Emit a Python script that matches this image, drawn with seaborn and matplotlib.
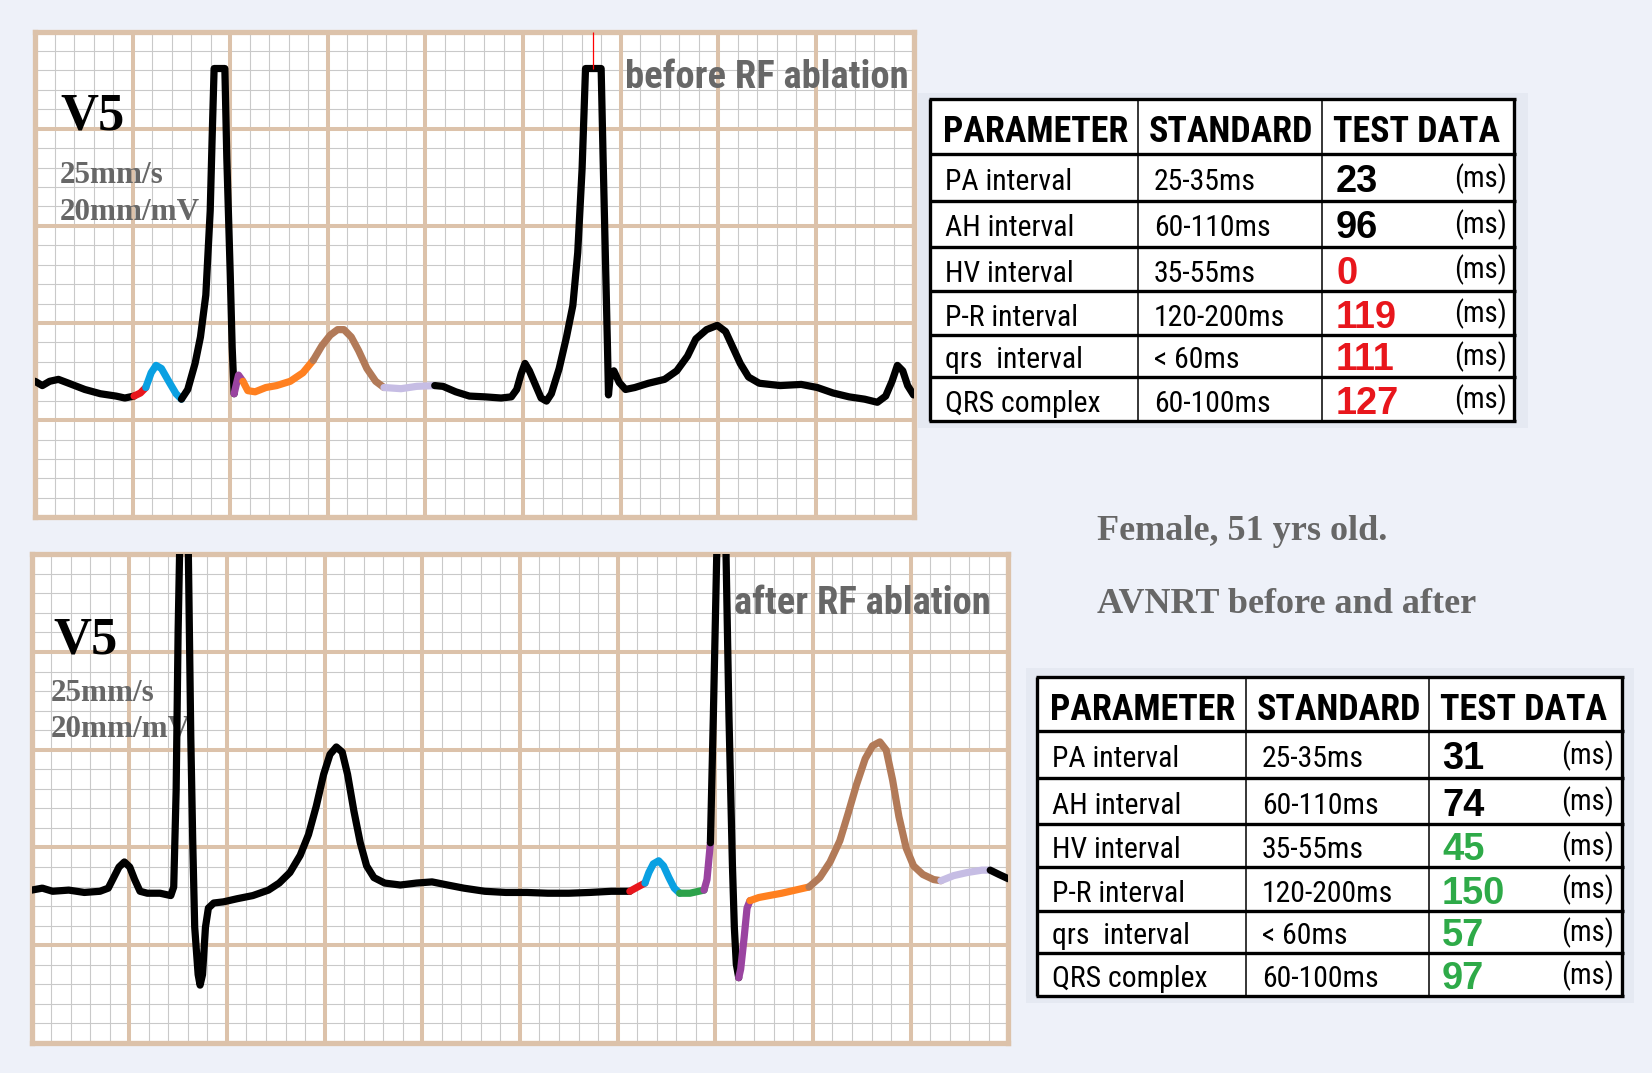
import numpy as np
import pandas as pd
import matplotlib
matplotlib.use("Agg")
import matplotlib.pyplot as plt
import matplotlib.font_manager as fm
from matplotlib.font_manager import FontProperties
from matplotlib.patches import Rectangle
import seaborn as sns

# ------------------------------------------------------------------ data
# ECG V5, time in ms (25 mm/s), amplitude in mV (20 mm/mV)
top_t = [0, 15, 30, 48, 69, 102, 134, 166, 184, 203,
         216, 227,
         238, 248, 259, 274, 289, 300,
         313, 328, 339, 350, 359, 363, 367, 389, 393, 400, 404, 408,
         417, 426,
         436, 451, 473, 495, 523, 549, 570,
         588, 605, 620, 633, 648, 663, 680, 698, 715,
         750, 782, 819,
         836, 862, 890, 922, 955, 976, 987, 996, 1004, 1013,
         1026, 1037, 1048, 1058, 1074, 1089, 1102, 1112, 1121, 1128,
         1160, 1164, 1169, 1173, 1175, 1179, 1186, 1197, 1210, 1229,
         1257, 1290, 1315, 1337, 1354, 1376, 1398, 1415, 1430, 1445,
         1462, 1484, 1527, 1570, 1603, 1635, 1668, 1700, 1726, 1743,
         1756, 1767, 1778, 1788, 1800]
top_v = [0.0, -0.011, 0.0, 0.005, -0.005, -0.021, -0.032, -0.038, -0.043, -0.038,
         -0.030, -0.016,
         0.022, 0.041, 0.033, 0.0, -0.032, -0.046,
         -0.021, 0.046, 0.114, 0.222, 0.439, 0.629, 0.805, 0.805, 0.575, 0.277, 0.087, -0.032,
         0.016, 0.0,
         -0.024, -0.027, -0.016, -0.011, 0.0, 0.022, 0.054,
         0.092, 0.119, 0.133, 0.133, 0.114, 0.079, 0.033, 0.0, -0.016,
         -0.019, -0.013, -0.011,
         -0.013, -0.027, -0.038, -0.040, -0.043, -0.040, -0.021, 0.019, 0.046, 0.027,
         -0.011, -0.043, -0.051, -0.032, 0.033, 0.114, 0.195, 0.331, 0.548, 0.805,
         0.805, 0.575, 0.304, 0.087, -0.035, 0.019, 0.027, -0.003, -0.021, -0.016,
         -0.005, 0.005, 0.027, 0.065, 0.109, 0.133, 0.144, 0.128, 0.087, 0.046,
         0.011, -0.005, -0.011, -0.008, -0.016, -0.030, -0.040, -0.046, -0.054, -0.038,
         0.0, 0.041, 0.027, -0.011, -0.035]
# (first index, last index, wave component)
top_waves = [(0, 9, "base"), (9, 11, "PA"), (11, 17, "P"), (17, 29, "base"),
             (29, 31, "QRS"), (31, 38, "ST"), (38, 47, "T"), (47, 50, "U"),
             (50, 105, "base")]
top_marker_t = 1144

bot_t = [0, 22, 43, 76, 108, 140, 157, 168, 179, 190, 201, 211, 222, 237, 263, 285,
         291, 296, 300, 303, 312, 321, 326, 330, 334, 341, 345, 350, 356, 362,
         373, 393, 421, 453, 485, 507, 529, 550, 567, 583,
         598, 611, 624, 636, 647, 660, 673, 686, 701, 723,
         755, 788, 820, 852, 885, 928, 971, 1014, 1057, 1100,
         1143, 1187, 1225,
         1241, 1256,
         1264, 1273, 1284, 1294, 1305, 1316, 1327,
         1348, 1366, 1377,
         1383, 1390,
         1396, 1403, 1412, 1422, 1428, 1435, 1439, 1443, 1448,
         1452, 1459, 1465, 1471,
         1489, 1510, 1536, 1564, 1592,
         1614, 1635, 1655, 1672, 1689, 1707, 1722, 1737, 1750, 1763, 1776, 1791,
         1806, 1825, 1847, 1862,
         1888, 1916, 1946, 1963,
         1981, 2000]
bot_v = [-0.009, -0.004, -0.012, -0.009, -0.015, -0.012, -0.004, 0.023, 0.050, 0.063,
         0.050, 0.018, -0.012, -0.017, -0.017, -0.023,
         -0.001, 0.247, 0.651, 0.85, 1.30, 0.85, 0.381, 0.112, -0.104, -0.225, -0.252,
         -0.225, -0.104, -0.055,
         -0.042, -0.039, -0.031, -0.023, -0.009, 0.009, 0.036, 0.080, 0.133, 0.206,
         0.287, 0.338, 0.357, 0.344, 0.287, 0.193, 0.112, 0.053, 0.023, 0.009,
         0.004, 0.009, 0.012, 0.004, -0.004, -0.012, -0.015, -0.015, -0.017, -0.017,
         -0.015, -0.012, -0.012,
         -0.001, 0.009,
         0.036, 0.058, 0.066, 0.053, 0.023, -0.004, -0.017,
         -0.017, -0.012, -0.009,
         0.018, 0.112,
         0.435, 0.85, 1.30, 0.85, 0.435, 0.058, -0.104, -0.198, -0.233,
         -0.211, -0.131, -0.055, -0.036,
         -0.028, -0.023, -0.017, -0.009, -0.001,
         0.023, 0.063, 0.117, 0.187, 0.260, 0.327, 0.360, 0.370, 0.349, 0.273, 0.179, 0.098,
         0.053, 0.031, 0.018, 0.015,
         0.028, 0.036, 0.042, 0.042,
         0.031, 0.020]
bot_waves = [(0, 62, "base"), (62, 64, "PA"), (64, 71, "P"), (71, 74, "AH"),
             (74, 76, "QRS"), (76, 85, "base"), (85, 89, "QRS"), (89, 94, "ST"),
             (94, 110, "T"), (110, 114, "U"), (114, 116, "base")]

panel_titles = ["before RF ablation", "after RF ablation"]
lead_name = "V5"
speed_txt = "25mm/s"
gain_txt = "20mm/mV"
patient_lines = ["Female, 51 yrs old.", "AVNRT before and after"]

table_header = ["PARAMETER", "STANDARD", "TEST DATA"]
params = ["PA interval", "AH interval", "HV interval", "P-R interval",
          "qrs  interval", "QRS complex"]
standards = ["25-35ms", "60-110ms", "35-55ms", "120-200ms", "< 60ms", "60-100ms"]
before_vals = [23, 96, 0, 119, 111, 127]
after_vals = [31, 74, 45, 150, 57, 97]
before_flag = ["ok", "ok", "abn", "abn", "abn", "abn"]
after_flag = ["ok", "ok", "good", "good", "good", "good"]
unit_txt = "(ms)"

# ------------------------------------------------------------------ style
sns.set_theme(style="white")
plt.rcParams["font.family"] = ["Liberation Sans", "DejaVu Sans"]


def wnum(w):
    if isinstance(w, (int, float)):
        return w
    return fm.weight_dict.get(w, 400)


def find_condensed():
    cand = [f for f in fm.fontManager.ttflist
            if f.style == "normal" and ("Narrow" in f.name or "Condensed" in f.name
                                        or f.stretch in ("condensed", "semi-condensed"))
            and "Mono" not in f.name and "Serif" not in f.name]
    prefs = ["Liberation Sans Narrow", "Roboto Condensed", "Noto Sans", "Open Sans",
             "DejaVu Sans Condensed", "DejaVu Sans", "Roboto"]
    fams = sorted({f.name for f in cand},
                  key=lambda n: prefs.index(n) if n in prefs else len(prefs))
    for fam in fams:
        fl = [f for f in cand if f.name == fam]
        reg = [f for f in fl if abs(wnum(f.weight) - 400) <= 50]
        bold = [f for f in fl if abs(wnum(f.weight) - 700) <= 50]
        if reg and bold:
            return reg[0].fname, bold[0].fname
    return None


cond = find_condensed()
if cond:
    FP_N = lambda: FontProperties(fname=cond[0])
    FP_NB = lambda: FontProperties(fname=cond[1])
    STRETCH = 1.0
else:
    FP_N = lambda: FontProperties(family="Liberation Sans")
    FP_NB = lambda: FontProperties(family="Liberation Sans", weight="bold")
    STRETCH = 1.1
FP_SB = lambda: FontProperties(family="Liberation Sans", weight="bold")
FP_RB = lambda: FontProperties(family="Liberation Serif", weight="bold")

W, H = 1652, 1073
BG = "#eef1f9"
TAN = "#dcc2aa"
MINOR = "#c9c9c9"
GRAY_TXT = "#676767"
WAVE_COL = {"base": "black", "PA": "#e8161c", "P": "#0aa0e2", "AH": "#2ca24a",
            "QRS": "#9a44a0", "ST": "#ff8020", "T": "#b27a58", "U": "#c6bde4"}
VAL_COL = {"ok": "black", "abn": "#e8161c", "good": "#2eaa48"}

fig = plt.figure(figsize=(W / 100, H / 100), dpi=100, facecolor=BG)
renderer = fig.canvas.get_renderer()


def fit_size(s, width_px, fpf, stretch=1.0):
    fp = fpf()
    fp.set_size(20)
    t = fig.text(0, 0, s, fontproperties=fp)
    w = t.get_window_extent(renderer).width
    t.remove()
    return 20 * width_px / w * stretch


def fprop(fpf, size):
    fp = fpf()
    fp.set_size(size)
    return fp


def fxy(x, y):
    return x / W, 1 - y / H


def ecg_panel(box, t, v, waves, xmax, ylim):
    l, tp, r, b = box
    ax = fig.add_axes([l / W, 1 - b / H, (r - l) / W, (b - tp) / H])
    ax.set_facecolor("white")
    y0, y1 = ylim
    n = int(round((y1 - y0) / 0.05))
    ys = y0 + 0.05 * np.arange(n + 1)
    xs = np.arange(0, xmax + 1, 40)
    ax.set_xticks([x for x in xs if x % 200])
    ax.set_yticks([y for i, y in enumerate(ys) if i % 5])
    ax.grid(True, color=MINOR, lw=0.8)
    for x in xs[::5]:
        ax.axvline(x, color=TAN, lw=2.9, zorder=0.8)
    for y in ys[::5]:
        ax.axhline(y, color=TAN, lw=2.9, zorder=0.8)
    ax.set_axisbelow(True)
    ax.tick_params(length=0, labelbottom=False, labelleft=False)
    df = pd.DataFrame({"t": t, "v": v})
    for i0, i1, w in waves:
        seg = df.iloc[i0:i1 + 1]
        sns.lineplot(data=seg, x="t", y="v", sort=False, estimator=None,
                     color=WAVE_COL[w], lw=5.2, ax=ax, legend=False,
                     solid_capstyle="round", solid_joinstyle="round", zorder=3)
    ax.set_xlim(0, xmax)
    ax.set_ylim(y0, y1)
    ax.set_xlabel("")
    ax.set_ylabel("")
    for s in ax.spines.values():
        s.set_visible(True)
        s.set_color(TAN)
        s.set_linewidth(3.8)
    return ax


sz_v5 = fit_size(lead_name, 64, FP_RB)
sz_speed = fit_size(gain_txt, 140, FP_RB)
sz_title = fit_size(panel_titles[0], 283, FP_NB, STRETCH)
sz_pat = fit_size(patient_lines[1], 379, FP_RB)
sz_head = fit_size(table_header[0], 186, FP_NB, STRETCH)
sz_body = fit_size(params[0], 127, FP_N, STRETCH)
sz_val = fit_size("119", 61, FP_SB)
sz_ms = fit_size(unit_txt, 53, FP_N, STRETCH)

# ------------------------------------------------------------------ panels
ax1 = ecg_panel((35, 31.6, 913.5, 517.3), top_t, top_v, top_waves, 1800, (-0.35, 0.9))
ax1.vlines(top_marker_t, 0.805, 0.9, color="red", lw=0.9, zorder=4)
ax2 = ecg_panel((31.6, 554.2, 1008.3, 1043), bot_t, bot_v, bot_waves, 2000, (-0.4, 0.85))

for ax, (vx, vy), (sx, sy1, sy2), (tx, ty), title in [
        (ax1, (60, 130), (60, 183, 220), (625, 87.5), panel_titles[0]),
        (ax2, (53, 654), (51, 701, 737), (734, 614), panel_titles[1])]:
    ax.text(*fxy(vx, vy), lead_name, transform=fig.transFigure,
            fontproperties=fprop(FP_RB, sz_v5), color="black", va="baseline", zorder=2)
    ax.text(*fxy(sx, sy1), speed_txt, transform=fig.transFigure,
            fontproperties=fprop(FP_RB, sz_speed), color=GRAY_TXT, va="baseline", zorder=2)
    ax.text(*fxy(sx, sy2), gain_txt, transform=fig.transFigure,
            fontproperties=fprop(FP_RB, sz_speed), color=GRAY_TXT, va="baseline", zorder=2)
    ax.text(*fxy(tx, ty), title, transform=fig.transFigure,
            fontproperties=fprop(FP_NB, sz_title), color=GRAY_TXT, va="baseline", zorder=2)

# ------------------------------------------------------------------ overlay (tables, notes)
ov = fig.add_axes([0, 0, 1, 1])
ov.set_xlim(0, W)
ov.set_ylim(H, 0)
ov.axis("off")
ov.patch.set_alpha(0)

for (px, py), line in zip([(1097, 540), (1097, 613)], patient_lines):
    ov.text(px, py, line, fontproperties=fprop(FP_RB, sz_pat),
            color=GRAY_TXT, va="baseline")


def draw_table(shade, xs, ys, vals, flags, tx):
    sx0, sy0, sx1, sy1 = shade
    ov.add_patch(Rectangle((sx0, sy0), sx1 - sx0, sy1 - sy0, facecolor="#e5e9f2",
                           edgecolor="none", zorder=1))
    ov.add_patch(Rectangle((xs[0], ys[0]), xs[-1] - xs[0], ys[-1] - ys[0],
                           facecolor="white", edgecolor="none", zorder=2))
    for y in ys:
        ov.plot([xs[0] - 1.5, xs[-1] + 1.5], [y, y], color="black", lw=2.4, zorder=4,
                solid_capstyle="butt")
    for k, x in enumerate(xs):
        lw = 2.4 if k in (0, len(xs) - 1) else 1.1
        ov.plot([x, x], [ys[0], ys[-1]], color="black", lw=lw, zorder=4,
                solid_capstyle="butt")
    hx = [xs[0] + 13, xs[1] + 11, xs[2] + 11]
    hb = (ys[0] + ys[1]) / 2 + 16
    for x, s in zip(hx, table_header):
        ov.text(x, hb, s, fontproperties=fprop(FP_NB, sz_head),
                color="black", va="baseline", zorder=5)
    for i in range(len(params)):
        c = (ys[i + 1] + ys[i + 2]) / 2
        b = c + 12.5
        ov.text(tx[0], b, params[i], fontproperties=fprop(FP_N, sz_body),
                color="black", va="baseline", zorder=5)
        ov.text(tx[1], b, standards[i], fontproperties=fprop(FP_N, sz_body),
                color="black", va="baseline", zorder=5)
        ov.text(tx[2], b + 2, str(vals[i]), fontproperties=fprop(FP_SB, sz_val),
                color=VAL_COL[flags[i]], va="baseline", zorder=5)
        ov.text(tx[3], b - 3, unit_txt, fontproperties=fprop(FP_N, sz_ms),
                color="black", va="baseline", ha="right", zorder=5)


draw_table((918, 93, 1528, 428), [930, 1138, 1322, 1514],
           [99, 154, 201, 247, 291, 335, 377, 421], before_vals, before_flag,
           [945, 1154, 1336, 1507])
draw_table((1026, 668, 1634, 1003), [1037, 1246, 1429, 1622],
           [677, 731, 778, 824, 867, 911, 953, 996], after_vals, after_flag,
           [1052, 1262, 1442, 1614])

fig.savefig("out.png", dpi=100, facecolor=BG)
